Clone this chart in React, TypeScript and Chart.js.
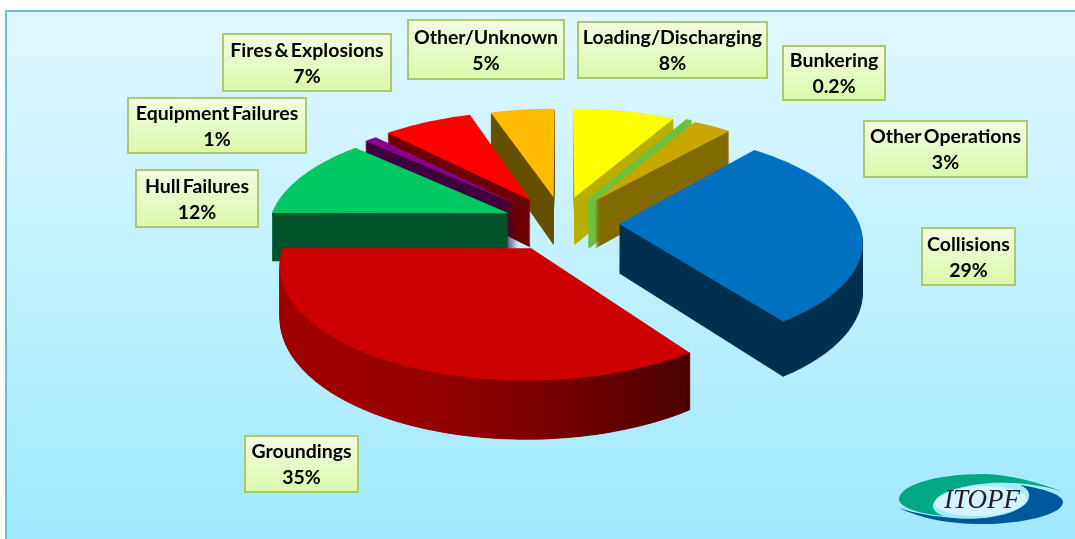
import React, { useEffect, useRef } from "react";
import { Chart, registerables } from "chart.js";

Chart.register(...registerables);

const categories = ["Loading/Discharging", "Bunkering", "Other Operations", "Collisions", "Groundings", "Hull Failures", "Equipment Failures", "Fires & Explosions", "Other/Unknown"];
const shares = [8, 0.2, 3, 29, 35, 12, 1, 7, 5];
const shareLabels = ["8%", "0.2%", "3%", "29%", "35%", "12%", "1%", "7%", "5%"];

const topColors = ["#ffff00", "#70c040", "#c8a800", "#0070c0", "#cc0000", "#00c964", "#8c008c", "#ff0000", "#ffbb00"];
const wallColors = ["#b8b000", "#70c040", "#806a00", "#003050", "#800000", "#00532b", "#3f003f", "#6e0000", "#665000"];
const explode = [56, 59, 59, 60, 67, 60, 62, 62, 55];
const nudges = [[0, 0], [0, 1], [1, 1], [-2, 2], [2, 0], [3, 2], [0, 3], [0, 2], [1, 0]];
const drawOrder = [8, 0, 1, 2, 7, 6, 5, 3, 4];
const labelBoxes = [
  [578, 22, 189, 56], [783, 46, 102, 54], [864, 121, 163, 56], [922, 228, 93, 57], [245, 436, 113, 56],
  [136, 170, 122, 57], [128, 98, 178, 55], [223, 34, 168, 57], [408, 20, 156, 59],
];

const TILT = 0.444;
const VIEW = 1800;
const DEPTH = 49;

const pie3d = {
  id: "pie3d",
  beforeDraw(chart: any) {
    const { ctx, width, height } = chart;
    ctx.save();
    ctx.fillStyle = "#ffffff";
    ctx.fillRect(0, 0, width, height);
    const g = ctx.createLinearGradient(0, 10, 0, height);
    g.addColorStop(0, "#e0f8ff");
    g.addColorStop(1, "#a0e9ff");
    ctx.fillStyle = g;
    ctx.fillRect(5, 10, width - 5, height - 10);
    ctx.strokeStyle = "#6bbdd8";
    ctx.lineWidth = 2;
    ctx.beginPath();
    ctx.moveTo(6, height);
    ctx.lineTo(6, 11);
    ctx.lineTo(width, 11);
    ctx.stroke();
    ctx.restore();
  },
  beforeDatasetsDraw(chart: any) {
    const { ctx } = chart;
    const arcs = chart.getDatasetMeta(0).data;
    drawOrder.forEach((i) => {
      const arc = arcs[i];
      const p = arc.getProps(["x", "y", "startAngle", "endAngle", "outerRadius"], true);
      const off = arc.options.offset;
      const mid = (p.startAngle + p.endAngle) / 2;
      const ox = Math.cos(mid) * off;
      const oy = Math.sin(mid) * off;
      const project = (ux: number, uy: number) => {
        const s = VIEW / (VIEW - uy);
        return { x: p.x + ux * s + nudges[i][0], y: p.y + uy * TILT * s + nudges[i][1], s };
      };
      const steps = Math.max(2, Math.ceil((p.endAngle - p.startAngle) * 40));
      const rim: any[] = [];
      for (let n = 0; n <= steps; n++) {
        const a = p.startAngle + ((p.endAngle - p.startAngle) * n) / steps;
        rim.push({ ...project(ox + Math.cos(a) * p.outerRadius, oy + Math.sin(a) * p.outerRadius), a });
      }
      const apex = project(ox, oy);
      const face = (shift: number) => {
        ctx.beginPath();
        ctx.moveTo(apex.x, apex.y + shift * apex.s);
        rim.forEach((q) => ctx.lineTo(q.x, q.y + shift * q.s));
        ctx.closePath();
      };
      ctx.save();
      ctx.fillStyle = wallColors[i];
      ctx.strokeStyle = wallColors[i];
      ctx.lineWidth = shares[i] < 1 ? 2.5 : 0;
      for (let d = DEPTH; d > 0; d -= 1) {
        face(d);
        ctx.fill();
        if (ctx.lineWidth && shares[i] < 1) ctx.stroke();
      }
      if (i === 4) {
        const g = ctx.createLinearGradient(285, 0, 690, 0);
        g.addColorStop(0, "#a00000");
        g.addColorStop(0.3, "#990000");
        g.addColorStop(0.6, "#800000");
        g.addColorStop(1, "#4a0000");
        ctx.fillStyle = g;
        ctx.strokeStyle = g;
        ctx.lineWidth = 0.6;
        for (let n = 0; n < steps; n++) {
          const a = rim[n];
          const b = rim[n + 1];
          ctx.beginPath();
          ctx.moveTo(a.x, a.y);
          ctx.lineTo(b.x, b.y);
          ctx.lineTo(b.x, b.y + DEPTH * b.s);
          ctx.lineTo(a.x, a.y + DEPTH * a.s);
          ctx.closePath();
          ctx.fill();
          ctx.stroke();
        }
      }
      ctx.fillStyle = topColors[i];
      face(0);
      ctx.fill();
      if (shares[i] < 1) {
        ctx.strokeStyle = topColors[i];
        ctx.lineWidth = 2.5;
        ctx.stroke();
      }
      ctx.restore();
    });
    return false;
  },
  afterDraw(chart: any) {
    const { ctx } = chart;
    ctx.save();
    labelBoxes.forEach((b, i) => {
      const g = ctx.createLinearGradient(0, b[1], 0, b[1] + b[3]);
      g.addColorStop(0, "#f3fbe2");
      g.addColorStop(1, "#d9f9aa");
      ctx.fillStyle = g;
      ctx.fillRect(b[0], b[1], b[2], b[3]);
      ctx.strokeStyle = "#a9c96a";
      ctx.lineWidth = 2;
      ctx.strokeRect(b[0], b[1], b[2], b[3]);
      ctx.fillStyle = "#000000";
      ctx.font = "700 19.5px Lato";
      (ctx as any).wordSpacing = "-2.5px";
      ctx.textAlign = "center";
      ctx.textBaseline = "middle";
      const cx = b[0] + b[2] / 2;
      ctx.fillText(categories[i], cx, b[1] + b[3] / 2 - 12);
      ctx.fillText(shareLabels[i], cx, b[1] + b[3] / 2 + 14);
    });
    (ctx as any).wordSpacing = "0px";
    // logo
    ctx.fillStyle = "#00a884";
    ctx.beginPath();
    ctx.moveTo(1063, 492);
    ctx.bezierCurveTo(1035, 481, 1010, 475, 985, 474);
    ctx.bezierCurveTo(935, 474, 899, 485, 899, 500);
    ctx.bezierCurveTo(901, 508, 920, 514, 944, 516);
    ctx.bezierCurveTo(925, 510, 930, 495, 963, 487);
    ctx.bezierCurveTo(985, 481, 1030, 480, 1063, 492);
    ctx.closePath();
    ctx.fill();
    ctx.fillStyle = "#00589c";
    ctx.beginPath();
    ctx.moveTo(1020, 485);
    ctx.bezierCurveTo(1040, 488, 1063, 494, 1063, 502);
    ctx.bezierCurveTo(1063, 515, 1020, 525, 975, 524);
    ctx.bezierCurveTo(945, 523, 920, 518, 899, 508);
    ctx.bezierCurveTo(915, 513, 930, 516, 944, 517);
    ctx.bezierCurveTo(985, 523, 1025, 513, 1029, 498);
    ctx.bezierCurveTo(1030, 492, 1027, 488, 1020, 485);
    ctx.closePath();
    ctx.fill();
    ctx.fillStyle = "#d2f3ff";
    ctx.beginPath();
    ctx.ellipse(981, 501, 46, 15, -0.04, 0, Math.PI * 2);
    ctx.fill();
    ctx.fillStyle = "#222222";
    ctx.font = "italic 27px 'Liberation Serif'";
    ctx.textAlign = "center";
    ctx.textBaseline = "middle";
    ctx.fillText("ITOPF", 982, 501);
    ctx.restore();
  },
};

export default function App() {
  const ref = useRef<HTMLCanvasElement>(null);
  useEffect(() => {
    const chart = new Chart(ref.current as HTMLCanvasElement, {
      type: "pie",
      data: {
        labels: categories,
        datasets: [{ data: shares, backgroundColor: topColors, offset: explode, borderWidth: 0 }],
      },
      options: {
        animation: false,
        responsive: false,
        events: [],
        rotation: 0,
        radius: 240,
        layout: { padding: { left: 47, top: 0, right: 0, bottom: 97 } },
        plugins: { legend: { display: false }, tooltip: { enabled: false } },
      },
      plugins: [pie3d],
    } as any);
    return () => chart.destroy();
  }, []);
  return (
    <div style={{ position: "fixed", left: 0, top: 0, width: 1075, height: 539 }}>
      <canvas ref={ref} width={1075} height={539} style={{ display: "block" }} />
    </div>
  );
}
